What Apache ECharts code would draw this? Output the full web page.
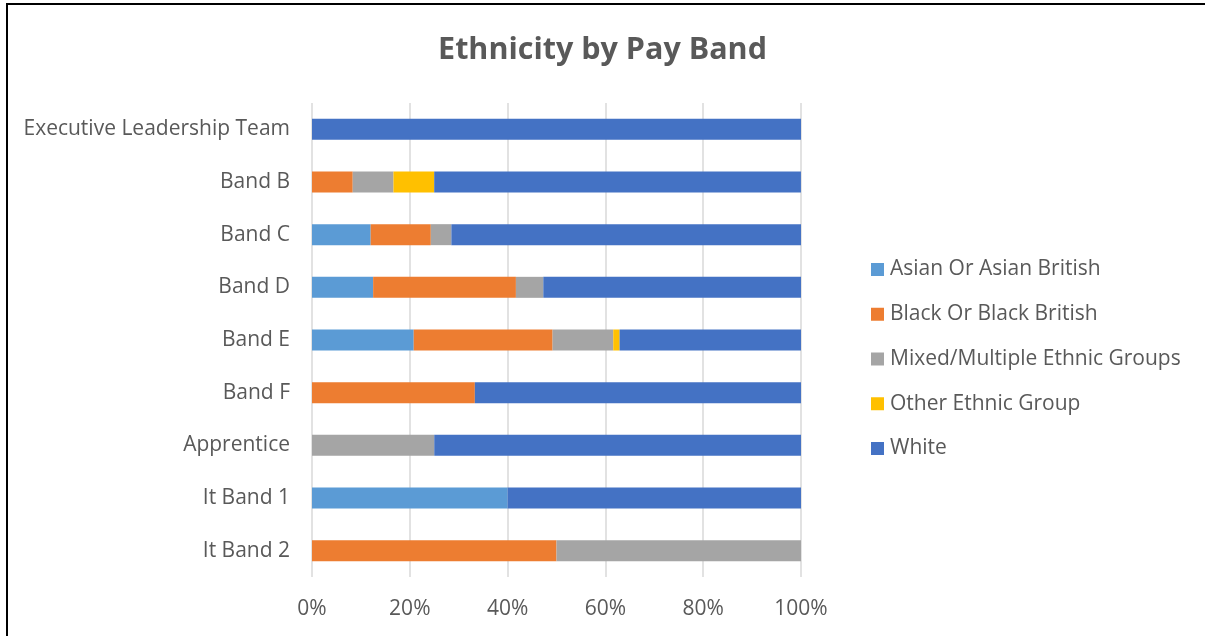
<!DOCTYPE html>
<html>
<head>
<meta charset="utf-8">
<script src="https://cdn.jsdelivr.net/npm/echarts@6/dist/echarts.min.js"></script>
<style>
  html, body { margin: 0; padding: 0; background: #fff; }
  #chart { width: 1205px; height: 636px; }
</style>
</head>
<body>
<div id="chart"></div>
<script>
// Pay bands, top to bottom as drawn
const categories = [
  'Executive Leadership Team', 'Band B', 'Band C', 'Band D', 'Band E',
  'Band F', 'Apprentice', 'It Band 1', 'It Band 2'
];

// Share of staff (%) in each pay band, per ethnic group
const asian  = [0,   0,    12.0, 12.5, 20.8, 0,    0,  40, 0];
const black  = [0,   8.33, 12.3, 29.2, 28.4, 33.3, 0,  0,  50];
const mixed  = [0,   8.33, 4.2,  5.6,  12.4, 0,    25, 0,  50];
const other  = [0,   8.33, 0,    0,    1.3,  0,    0,  0,  0];
const white  = [100, 75,   71.5, 52.7, 37.1, 66.7, 75, 60, 0];

const seriesNames = [
  'Asian Or Asian British', 'Black Or Black British',
  'Mixed/Multiple Ethnic Groups', 'Other Ethnic Group', 'White'
];
const seriesData = [asian, black, mixed, other, white];
const colors = ['#5B9BD5', '#ED7D31', '#A5A5A5', '#FFC000', '#4472C4'];

const xTicks = [0, 20, 40, 60, 80, 100];

const FONT = '"Open Sans", sans-serif';
const TEXT = '#595959';

const chart = echarts.init(document.getElementById('chart'), null, { renderer: 'canvas' });

chart.setOption({
  animation: false,
  backgroundColor: '#ffffff',
  color: colors,
  title: {
    text: 'Ethnicity by Pay Band',
    left: 'center',
    top: 30,
    textStyle: { fontFamily: FONT, fontSize: 30.5, fontWeight: 'bold', color: TEXT }
  },
  graphic: [{
    type: 'rect',
    silent: true,
    shape: { x: 7, y: 4, width: 1400, height: 800 },
    style: { fill: 'none', stroke: '#000000', lineWidth: 2 }
  }],
  legend: {
    orient: 'vertical',
    left: 866,
    top: 254,
    itemWidth: 13,
    itemHeight: 13,
    itemGap: 23.75,
    icon: 'rect',
    textStyle: { fontFamily: FONT, fontSize: 21, color: TEXT, padding: [0, 0, 0, 1] },
    data: seriesNames
  },
  grid: { left: 312, right: 404, top: 103, bottom: 59, containLabel: false },
  xAxis: {
    type: 'value',
    min: 0,
    max: 100,
    interval: 20,
    axisLine: { show: false },
    axisTick: { show: false },
    splitLine: { show: true, lineStyle: { color: '#D9D9D9', width: 1.5 } },
    axisLabel: {
      fontFamily: FONT, fontSize: 21, color: TEXT, margin: 22,
      formatter: v => (xTicks.includes(v) ? v + '%' : '')
    }
  },
  yAxis: {
    type: 'category',
    inverse: true,
    data: categories,
    axisLine: { show: false },
    axisTick: { show: false },
    splitLine: { show: false },
    axisLabel: { fontFamily: FONT, fontSize: 21, color: TEXT, margin: 22, padding: [3, 0, 0, 0] }
  },
  series: seriesNames.map((name, i) => ({
    name,
    type: 'bar',
    stack: 'total',
    barWidth: 21,
    data: seriesData[i]
  }))
});
</script>
</body>
</html>
